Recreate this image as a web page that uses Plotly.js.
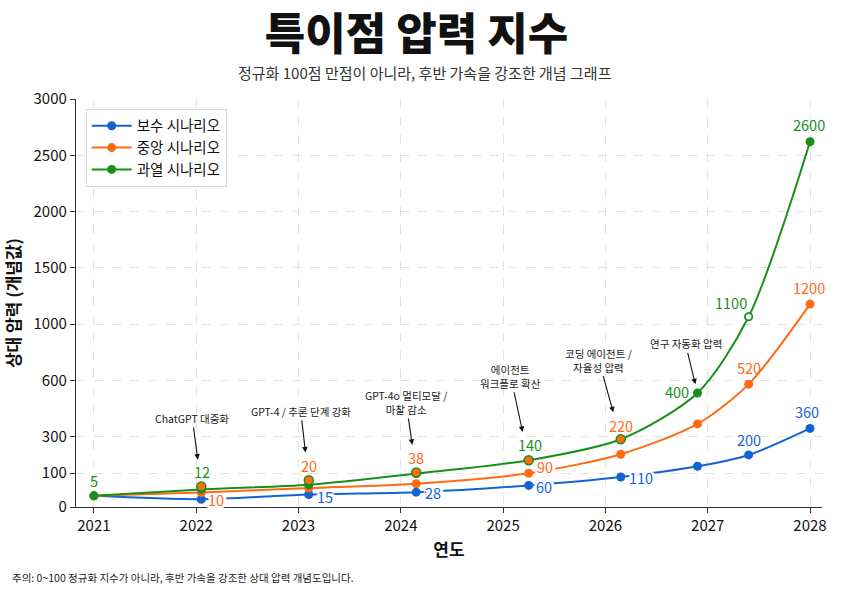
<!DOCTYPE html>
<html><head><meta charset="utf-8">
<script src="https://cdn.plot.ly/plotly-3.0.1.min.js"></script>
<style>html,body{margin:0;padding:0;background:#fff;}#chart{width:850px;height:601px;}</style>
</head><body><div id="chart"></div>
<script>
// ---------------- data ----------------
const years = [2021, 2022.05, 2023.1, 2024.15, 2025.25, 2026.15, 2026.9, 2027.4, 2028];
const conservative = [33, 23, 37, 44, 64, 89, 138, 200, 344];
const moderate = [33, 43, 56, 69, 100, 204, 368, 580, 1178];
const aggressive = [33, 52, 66, 99, 171, 286, 533, 1065, 2620];
const seriesNames = ['보수 시나리오', '중앙 시나리오', '과열 시나리오'];

const milestoneYears = [2022.05, 2023.1, 2024.15, 2025.25, 2026.15];
const milestoneLevels = [61, 79, 104, 171, 286];
const eventTexts = ['ChatGPT 대중화', 'GPT-4 / 추론 단계 강화', 'GPT-4o 멀티모달 /<br>마찰 감소',
  '에이전트<br>워크플로 확산', '코딩 에이전트 /<br>자율성 압력', '연구 자동화 압력'];

const valueLabelTexts = ['5','12','10','20','15','38','28','140','90','60','220','110','400','1100','520','200','360','1200','2600'];

const xTickValues = [2021, 2022, 2023, 2024, 2025, 2026, 2027, 2028];
const xTickLabels = ['2021','2022','2023','2024','2025','2026','2027','2028'];
const yTickValues = [0, 100, 300, 600, 1000, 1500, 2000, 2500, 3000];
const yTickLabels = ['0','100','300','600','1000','1500','2000','2500','3000'];

// ---------------- scale (piecewise axis of the original) ----------------
const Y_UNITS = [0, 0.6, 1.25, 2.25, 3.25, 4.25, 5.25, 6.25, 7.25];
function sy(v){
  for (let k = 1; k < yTickValues.length; k++){
    if (v <= yTickValues[k]){
      const a = yTickValues[k-1], b = yTickValues[k];
      return Y_UNITS[k-1] + (v - a) / (b - a) * (Y_UNITS[k] - Y_UNITS[k-1]);
    }
  }
  return Y_UNITS[Y_UNITS.length-1];
}
const S = arr => arr.map(sy);

// ---------------- styles ----------------
const BLUE = '#1463d4', ORANGE = '#ff6a13', GREEN = '#17901a';
const FONT = "'Noto Sans CJK KR', 'Noto Sans', sans-serif";
const HALO = '2px 0 0 #fff, -2px 0 0 #fff, 0 2px 0 #fff, 0 -2px 0 #fff, 2px 2px 0 #fff, -2px -2px 0 #fff, 2px -2px 0 #fff, -2px 2px 0 #fff, 3px 0 0 #fff, -3px 0 0 #fff';

const traces = [
  {x: years, y: S(conservative), name: seriesNames[0], mode: 'lines+markers',
   line: {color: BLUE, width: 2, shape: 'spline', smoothing: 0.8}, marker: {color: BLUE, size: 9}},
  {x: years, y: S(moderate), name: seriesNames[1], mode: 'lines+markers',
   line: {color: ORANGE, width: 2, shape: 'spline', smoothing: 0.8}, marker: {color: ORANGE, size: 9}},
  {x: years, y: S(aggressive), name: seriesNames[2], mode: 'lines+markers',
   line: {color: GREEN, width: 2, shape: 'spline', smoothing: 0.8}, marker: {color: GREEN, size: 9}},
  {x: milestoneYears, y: S(milestoneLevels), mode: 'markers', showlegend: false, hoverinfo: 'skip',
   marker: {color: ORANGE, size: 9, line: {color: GREEN, width: 1.5}}},
  {x: [years[7]], y: [sy(aggressive[7])], mode: 'markers', showlegend: false, hoverinfo: 'skip',
   marker: {color: 'white', size: 7, line: {color: GREEN, width: 1.5}}}
];

// anchors for value labels: [source, index, color, xanchor, xshift, yshift, halo]
const src = {b: conservative, o: moderate, g: aggressive, m: milestoneLevels};
const srcX = {b: years, o: years, g: years, m: milestoneYears};
const labelStyle = [
  ['g',0,GREEN,'center',0,15,false],
  ['m',0,GREEN,'center',1,15,false],
  ['b',1,ORANGE,'left',6,0,true],
  ['m',1,ORANGE,'center',0,15,false],
  ['b',2,BLUE,'left',7,-1.5,true],
  ['m',2,ORANGE,'center',0,15,false],
  ['b',3,BLUE,'left',8,0,true],
  ['m',3,GREEN,'center',1,16,false],
  ['o',4,ORANGE,'left',7,6.5,true],
  ['b',4,BLUE,'left',6,-1.5,true],
  ['m',4,ORANGE,'center',0,14,false],
  ['b',5,BLUE,'left',7,-0.6,true],
  ['g',6,GREEN,'right',-8,1,false],
  ['g',7,GREEN,'center',-18,14,false],
  ['o',7,ORANGE,'center',0,16.7,false],
  ['b',7,BLUE,'center',0,15.4,false],
  ['b',8,BLUE,'center',-3,16.6,false],
  ['o',8,ORANGE,'center',-1.5,17,false],
  ['g',8,GREEN,'center',-1.5,17,false]
];

const annotations = [];
valueLabelTexts.forEach((t, k) => {
  const [s, i, c, xa, xs, ys, halo] = labelStyle[k];
  const f = {family: FONT, size: 14.5, color: c};
  if (halo) f.shadow = HALO;
  annotations.push({x: srcX[s][i], y: sy(src[s][i]), xref: 'x', yref: 'y', text: t, showarrow: false,
    xanchor: xa, yanchor: 'middle', xshift: xs, yshift: ys, borderpad: 0, font: f});
});

// event arrows: [ax, ay, standoff]
const eventStyle = [[-9,-68,27],[-8,-69,28],[-10,-70,28],[-18,-84,29],[-22,-79,28],[-12,-49,9]];
const eventX = milestoneYears.concat([years[6]]);
const eventY = milestoneLevels.concat([aggressive[6]]);
eventTexts.forEach((t, k) => {
  const [ax, ay, so] = eventStyle[k];
  annotations.push({x: eventX[k], y: sy(eventY[k]), xref: 'x', yref: 'y', text: t,
    showarrow: true, ax: ax, ay: ay, standoff: so, arrowhead: 2, arrowsize: 1, arrowwidth: 1.1,
    arrowcolor: '#111', font: {family: FONT, size: 10.5, color: '#1a1a1a'}, align: 'center'});
});

annotations.push({xref: 'paper', yref: 'paper', x: 0.468, y: 1.065, xanchor: 'center', yanchor: 'middle',
  text: '정규화 100점 만점이 아니라, 후반 가속을 강조한 개념 그래프', showarrow: false,
  font: {family: FONT, size: 15, color: '#333'}});
annotations.push({xref: 'paper', yref: 'paper', x: -0.0885, y: -0.174, xanchor: 'left', yanchor: 'middle',
  text: '주의: 0~100 정규화 지수가 아니라, 후반 가속을 강조한 상대 압력 개념도입니다.', showarrow: false,
  font: {family: FONT, size: 10.5, color: '#222'}});

const layout = {
  width: 850, height: 601,
  margin: {l: 76, r: 28, t: 99, b: 94, pad: 0},
  paper_bgcolor: 'white', plot_bgcolor: 'white',
  font: {family: FONT, color: '#111'},
  title: {text: '특이점 압력 지수', x: 0.49, xref: 'container', y: 0.942, yref: 'container',
          xanchor: 'center', yanchor: 'middle', font: {family: FONT, size: 44, weight: 900, color: '#111'}},
  xaxis: {range: [2020.825, 2028.117], tickvals: xTickValues, ticktext: xTickLabels,
    showgrid: true, gridcolor: '#e2e2e2', griddash: 'dash', gridwidth: 1,
    showline: true, linecolor: '#333', linewidth: 1.2, ticks: 'outside', ticklen: 5, tickcolor: '#333',
    tickfont: {family: FONT, size: 15, color: '#111'}, zeroline: false,
    title: {text: '연도', standoff: 9, font: {family: FONT, size: 17, weight: 'bold', color: '#111'}}},
  yaxis: {range: [0, 7.25], tickvals: yTickValues.map(sy), ticktext: yTickLabels,
    showgrid: true, gridcolor: '#e2e2e2', griddash: 'dash', gridwidth: 1,
    showline: true, linecolor: '#333', linewidth: 1.2, ticks: 'outside', ticklen: 5, tickcolor: '#333',
    tickfont: {family: FONT, size: 15, color: '#111'}, zeroline: false,
    title: {text: '상대 압력 (개념값)', standoff: 8, font: {family: FONT, size: 17, weight: 'bold', color: '#111'}}},
  legend: {x: 0.013, y: 0.976, xanchor: 'left', yanchor: 'top', bgcolor: 'rgba(255,255,255,0.9)',
    bordercolor: '#d8d8d8', borderwidth: 1, itemwidth: 40, font: {family: FONT, size: 14.5, color: '#111'}},
  annotations: annotations,
  showlegend: true
};

Plotly.newPlot('chart', traces, layout, {staticPlot: true, displayModeBar: false});
</script>
</body></html>
